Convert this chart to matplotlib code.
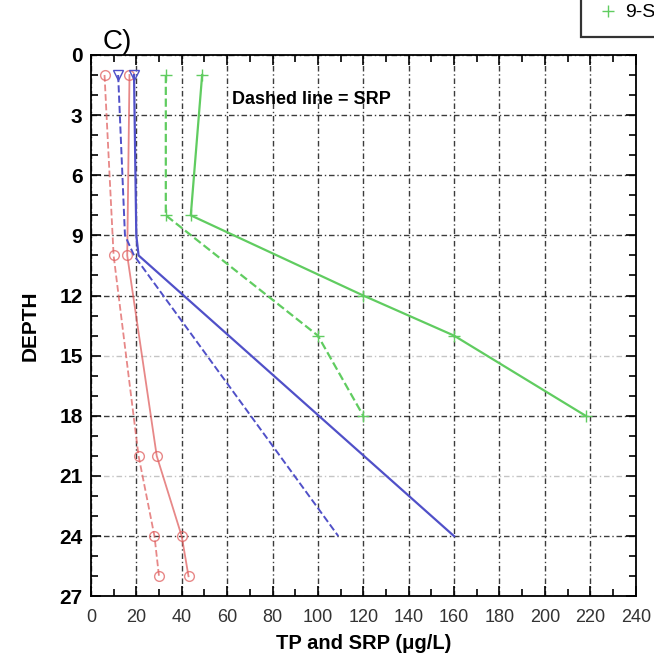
import numpy as np
import matplotlib.pyplot as plt
from matplotlib.ticker import MultipleLocator
from matplotlib.lines import Line2D

plt.rcParams.update({
    'font.family': ['Liberation Sans', 'DejaVu Sans'],
    'xtick.direction': 'in',
    'ytick.direction': 'in',
})

# TP (solid) and SRP (dashed) profiles, x in ug/L, depth in m
red_tp_depth = [1, 10, 20, 24, 26]
red_tp = [17, 16, 29, 40, 43]
red_srp_depth = [1, 10, 20, 24, 26]
red_srp = [6, 10, 21, 28, 30]

blue_tp_depth = [1, 9, 10, 24]
blue_tp = [19, 20, 21, 160]
blue_srp_depth = [1, 9, 10, 24]
blue_srp = [12, 15, 19, 109]

green_tp_depth = [1, 8, 12, 14, 18]
green_tp = [49, 44, 120, 160, 218]
green_srp_depth = [1, 8, 14, 18]
green_srp = [33, 33, 100, 120]

legend_label = '9-Sep'

RED = '#e06060'
BLUE = '#5050c8'
GREEN = '#60cc60'

fig = plt.figure(figsize=(6.54, 6.70), dpi=100)
ax = fig.add_axes([0.139, 0.110, 0.833, 0.808])

# grid first, underneath the data
ax.set_xlim(0, 240)
ax.set_ylim(27, 0)
ax.xaxis.set_major_locator(MultipleLocator(20))
ax.xaxis.set_minor_locator(MultipleLocator(10))
ax.yaxis.set_major_locator(MultipleLocator(3))
ax.yaxis.set_minor_locator(MultipleLocator(1))
ax.grid(True, which='major', color='#1a1a1a', lw=1.0, ls=(0, (4, 2, 1, 2)), alpha=0.85)
ax.set_axisbelow(True)
for gl, v in zip(ax.yaxis.get_gridlines(), ax.get_yticks()):
    if v in (15, 21):
        gl.set_alpha(0.25)

ms = 7
ax.plot(red_tp, red_tp_depth, '-', color=RED, lw=1.3, marker='o', mfc='none', ms=ms, alpha=0.75)
ax.plot(red_srp, red_srp_depth, '--', color=RED, lw=1.3, marker='o', mfc='none', ms=ms, alpha=0.75)
ax.plot(blue_tp, blue_tp_depth, '-', color=BLUE, lw=1.6, marker='v', mfc='none', ms=ms, markevery=[0])
ax.plot(blue_srp, blue_srp_depth, '--', color=BLUE, lw=1.4, marker='v', mfc='none', ms=ms, markevery=[0])
ax.plot(green_tp, green_tp_depth, '-', color=GREEN, lw=1.6, marker='+', ms=9)
ax.plot(green_srp, green_srp_depth, '--', color=GREEN, lw=1.6, marker='+', ms=9)

ax.tick_params(which='both', top=True, right=True, width=1.2)
ax.tick_params(which='major', length=7)
ax.tick_params(which='minor', length=5)
ax.tick_params(axis='x', labelsize=13, labelcolor='#333333', pad=9)
ax.tick_params(axis='y', labelsize=15, pad=6)
for lab in ax.get_yticklabels():
    lab.set_fontweight('bold')
for sp in ax.spines.values():
    sp.set_linewidth(1.3)

ax.set_xlabel('TP and SRP (\u03bcg/L)', fontsize=14.5, fontweight='bold', labelpad=6)
ax.set_ylabel('DEPTH', fontsize=15, fontweight='bold', labelpad=14)
ax.text(62, 2.2, 'Dashed line = SRP', fontsize=13, fontweight='bold', va='center', ha='left')
fig.text(0.157, 0.918, 'C)', fontsize=20, ha='left', va='bottom')

# legend sits in the top-right corner, partly outside the figure as in the source
handles = [Line2D([0], [0], color=GREEN, marker='+', ls='none', ms=9)]
leg = fig.legend(handles, [legend_label], loc='lower left',
                 bbox_to_anchor=(0.888, 1 - 37 / 670), fontsize=14,
                 frameon=True, fancybox=False, edgecolor='black',
                 handlelength=1.2, handletextpad=0.3, borderaxespad=0, borderpad=0.8)
leg.get_frame().set_linewidth(1.6)

fig.savefig('out.png', dpi=100)
